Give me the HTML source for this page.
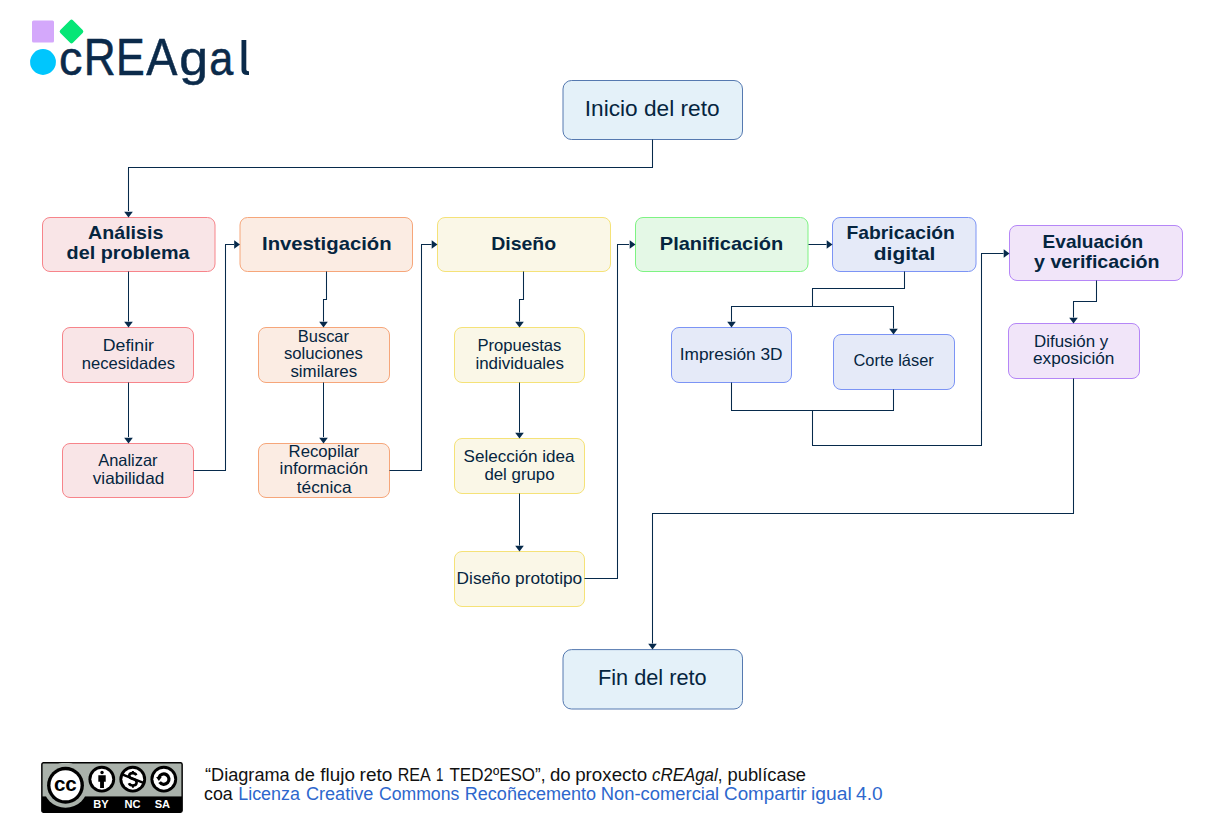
<!DOCTYPE html>
<html><head><meta charset="utf-8"><style>
html,body{margin:0;padding:0;background:#fff;}
body{width:1229px;height:824px;position:relative;overflow:hidden;font-family:"Liberation Sans",sans-serif;}
svg text{font-family:"Liberation Sans",sans-serif;white-space:pre;}
#main{position:absolute;left:0;top:0;}
.cc{position:absolute;left:41px;top:762px;}
</style></head><body>
<svg id="main" width="1229" height="824" viewBox="0 0 1229 824">
<rect x="32" y="20.5" width="22" height="22" rx="1.5" fill="#d4a8fb"/>
<rect x="62.6" y="22.6" width="17.8" height="17.8" rx="2" fill="#06e676" transform="rotate(45 71.5 31.5)"/>
<circle cx="43" cy="62" r="12.9" fill="#00c6fd"/>
<g fill="#0b2a4a" stroke="#0b2a4a" stroke-width="0.5">
<text x="58.88" y="75" font-size="47.5" textLength="23.40" lengthAdjust="spacingAndGlyphs">c</text>
<text x="83.70" y="75" font-size="51.5" textLength="31.95" lengthAdjust="spacingAndGlyphs">R</text>
<text x="116.10" y="75" font-size="51.5" textLength="28.71" lengthAdjust="spacingAndGlyphs">E</text>
<text x="146.24" y="75" font-size="51.5" textLength="31.20" lengthAdjust="spacingAndGlyphs">A</text>
<text x="179.27" y="75" font-size="47.5" textLength="28.80" lengthAdjust="spacingAndGlyphs">g</text>
<text x="209.33" y="75" font-size="47.5" textLength="24.06" lengthAdjust="spacingAndGlyphs">a</text>
</g>
<path d="M241.5 39.9 H246.3 V69.5 Q246.3 71.2 248.3 71.2 H249 V75 H247.5 Q241.5 75 241.5 70 Z" fill="#0b2a4a"/>

<rect x="563" y="80.5" width="179.5" height="59.0" rx="8.5" fill="#e4f1f9" stroke="#5579b0"/>
<rect x="563" y="649.6" width="179.5" height="59.39999999999998" rx="8.5" fill="#e4f1f9" stroke="#5579b0"/>
<rect x="42.5" y="217.5" width="172.5" height="54.0" rx="7.5" fill="#f9e5e7" stroke="#f7848a"/>
<rect x="240" y="217.5" width="172.5" height="54.0" rx="7.5" fill="#fbece3" stroke="#f6a67a"/>
<rect x="437.5" y="217.5" width="173.0" height="54.0" rx="7.5" fill="#faf7e7" stroke="#f5e278"/>
<rect x="635.5" y="217.5" width="172.5" height="54.0" rx="7.5" fill="#e4f8e6" stroke="#7ef383"/>
<rect x="832.5" y="217.5" width="143.5" height="54.0" rx="7.5" fill="#e5eaf8" stroke="#7c94f5"/>
<rect x="1009.5" y="225.5" width="173.0" height="55.0" rx="7.5" fill="#f1e5f9" stroke="#b586f7"/>
<rect x="62.5" y="327.5" width="131.0" height="55.0" rx="7.5" fill="#f9e5e7" stroke="#f7848a"/>
<rect x="62.5" y="443.5" width="131.0" height="54.0" rx="7.5" fill="#f9e5e7" stroke="#f7848a"/>
<rect x="258.5" y="327.5" width="131.0" height="55.0" rx="7.5" fill="#fbece3" stroke="#f6a67a"/>
<rect x="258.5" y="443.5" width="131.0" height="54.0" rx="7.5" fill="#fbece3" stroke="#f6a67a"/>
<rect x="454.5" y="327.5" width="130.0" height="55.0" rx="7.5" fill="#faf7e7" stroke="#f5e278"/>
<rect x="454.5" y="438.5" width="130.0" height="55.0" rx="7.5" fill="#faf7e7" stroke="#f5e278"/>
<rect x="454.5" y="551.5" width="130.0" height="55.0" rx="7.5" fill="#faf7e7" stroke="#f5e278"/>
<rect x="671.5" y="327.5" width="120.0" height="55.0" rx="7.5" fill="#e5eaf8" stroke="#7c94f5"/>
<rect x="833.5" y="334.5" width="121.0" height="55.0" rx="7.5" fill="#e5eaf8" stroke="#7c94f5"/>
<rect x="1008.5" y="323.5" width="131.0" height="55.0" rx="7.5" fill="#f1e5f9" stroke="#b586f7"/>
<g fill="none" stroke="#072a4b" stroke-width="1.05">
<path d="M652.5 139.5 V167.5 H128.5 V211"/>
<path d="M128.5 271.5 V321.5"/>
<path d="M128.5 382.5 V437"/>
<path d="M193.5 470.5 H225.5 V244.5 H234"/>
<path d="M326.5 271.5 V299.5 H323.5 V321.5"/>
<path d="M323.5 382.5 V437"/>
<path d="M389.5 470.5 H421.5 V244.5 H431.5"/>
<path d="M523.5 271.5 V299.5 H519.5 V321.5"/>
<path d="M519.5 382.5 V432.5"/>
<path d="M519.5 493.5 V545.5"/>
<path d="M584.5 578.5 H617.5 V244.5 H629"/>
<path d="M808.5 244.5 H826.5"/>
<path d="M904.5 271.5 V288.5 H812.5 V306.5"/>
<path d="M731.5 321.5 V306.5 H893.5 V328.5"/>
<path d="M731.5 382.5 V410.5 H893.5 V389.5"/>
<path d="M812.5 410.5 V445.5 H981.5 V253.5 H1003.5"/>
<path d="M1096.5 280.5 V301.5 H1073.5 V317.5"/>
<path d="M1073.5 378.5 V513.5 H652.5 V643.5"/>
</g><g fill="#072a4b">
<path d="M124.2 211.7 L132.8 211.7 L128.5 217.5 Z"/>
<path d="M124.2 321.7 L132.8 321.7 L128.5 327.5 Z"/>
<path d="M124.2 437.7 L132.8 437.7 L128.5 443.5 Z"/>
<path d="M234.2 240.2 L234.2 248.8 L240 244.5 Z"/>
<path d="M319.2 321.7 L327.8 321.7 L323.5 327.5 Z"/>
<path d="M319.2 437.7 L327.8 437.7 L323.5 443.5 Z"/>
<path d="M431.7 240.2 L431.7 248.8 L437.5 244.5 Z"/>
<path d="M515.2 321.7 L523.8 321.7 L519.5 327.5 Z"/>
<path d="M515.2 432.7 L523.8 432.7 L519.5 438.5 Z"/>
<path d="M515.2 545.7 L523.8 545.7 L519.5 551.5 Z"/>
<path d="M629.7 240.2 L629.7 248.8 L635.5 244.5 Z"/>
<path d="M826.7 240.2 L826.7 248.8 L832.5 244.5 Z"/>
<path d="M727.2 321.7 L735.8 321.7 L731.5 327.5 Z"/>
<path d="M889.2 328.7 L897.8 328.7 L893.5 334.5 Z"/>
<path d="M1003.7 249.2 L1003.7 257.8 L1009.5 253.5 Z"/>
<path d="M1069.2 317.7 L1077.8 317.7 L1073.5 323.5 Z"/>
<path d="M648.2 643.7 L656.8 643.7 L652.5 649.5 Z"/>
</g>
<text x="102.80" y="350.6" font-size="16.5" font-weight="400" fill="#05253f" textLength="51.20" lengthAdjust="spacingAndGlyphs" >Definir</text>
<text x="81.80" y="368.7" font-size="16.5" font-weight="400" fill="#05253f" textLength="93.20" lengthAdjust="spacingAndGlyphs" >necesidades</text>
<text x="98.20" y="465.8" font-size="16.5" font-weight="400" fill="#05253f" textLength="59.40" lengthAdjust="spacingAndGlyphs" >Analizar</text>
<text x="92.80" y="483.7" font-size="16.5" font-weight="400" fill="#05253f" textLength="71.40" lengthAdjust="spacingAndGlyphs" >viabilidad</text>
<text x="297.80" y="341.7" font-size="16.5" font-weight="400" fill="#05253f" textLength="51.20" lengthAdjust="spacingAndGlyphs" >Buscar</text>
<text x="284.00" y="359.4" font-size="16.5" font-weight="400" fill="#05253f" textLength="78.80" lengthAdjust="spacingAndGlyphs" >soluciones</text>
<text x="290.40" y="376.8" font-size="16.5" font-weight="400" fill="#05253f" textLength="66.80" lengthAdjust="spacingAndGlyphs" >similares</text>
<text x="288.60" y="456.7" font-size="16.5" font-weight="400" fill="#05253f" textLength="70.60" lengthAdjust="spacingAndGlyphs" >Recopilar</text>
<text x="279.60" y="474.3" font-size="16.5" font-weight="400" fill="#05253f" textLength="88.40" lengthAdjust="spacingAndGlyphs" >información</text>
<text x="296.80" y="492.6" font-size="16.5" font-weight="400" fill="#05253f" textLength="54.80" lengthAdjust="spacingAndGlyphs" >técnica</text>
<text x="477.40" y="350.5" font-size="16.5" font-weight="400" fill="#05253f" textLength="84.00" lengthAdjust="spacingAndGlyphs" >Propuestas</text>
<text x="475.40" y="368.6" font-size="16.5" font-weight="400" fill="#05253f" textLength="88.60" lengthAdjust="spacingAndGlyphs" >individuales</text>
<text x="463.60" y="461.7" font-size="16.5" font-weight="400" fill="#05253f" textLength="111.00" lengthAdjust="spacingAndGlyphs" >Selección idea</text>
<text x="484.40" y="479.6" font-size="16.5" font-weight="400" fill="#05253f" textLength="70.20" lengthAdjust="spacingAndGlyphs" >del grupo</text>
<text x="456.60" y="583.5" font-size="16.5" font-weight="400" fill="#05253f" textLength="125.60" lengthAdjust="spacingAndGlyphs" >Diseño prototipo</text>
<text x="679.80" y="360" font-size="16.5" font-weight="400" fill="#05253f" textLength="102.80" lengthAdjust="spacingAndGlyphs" >Impresión 3D</text>
<text x="853.40" y="365.8" font-size="16.5" font-weight="400" fill="#05253f" textLength="80.40" lengthAdjust="spacingAndGlyphs" >Corte láser</text>
<text x="1034.00" y="346.6" font-size="16.5" font-weight="400" fill="#05253f" textLength="74.20" lengthAdjust="spacingAndGlyphs" >Difusión y</text>
<text x="1033.00" y="363.6" font-size="16.5" font-weight="400" fill="#05253f" textLength="81.40" lengthAdjust="spacingAndGlyphs" >exposición</text>
<text x="88.00" y="238.8" font-size="19.0" font-weight="700" fill="#05253f" textLength="75.40" lengthAdjust="spacingAndGlyphs" >Análisis</text>
<text x="66.60" y="259.3" font-size="19.0" font-weight="700" fill="#05253f" textLength="123.00" lengthAdjust="spacingAndGlyphs" >del problema</text>
<text x="262.00" y="249.7" font-size="19.0" font-weight="700" fill="#05253f" textLength="129.60" lengthAdjust="spacingAndGlyphs" >Investigación</text>
<text x="491.20" y="249.9" font-size="19.0" font-weight="700" fill="#05253f" textLength="65.00" lengthAdjust="spacingAndGlyphs" >Diseño</text>
<text x="659.80" y="249.8" font-size="19.0" font-weight="700" fill="#05253f" textLength="123.40" lengthAdjust="spacingAndGlyphs" >Planificación</text>
<text x="846.60" y="238.8" font-size="19.0" font-weight="700" fill="#05253f" textLength="108.20" lengthAdjust="spacingAndGlyphs" >Fabricación</text>
<text x="873.80" y="259.7" font-size="19.0" font-weight="700" fill="#05253f" textLength="61.60" lengthAdjust="spacingAndGlyphs" >digital</text>
<text x="1042.60" y="247.8" font-size="19.0" font-weight="700" fill="#05253f" textLength="100.60" lengthAdjust="spacingAndGlyphs" >Evaluación</text>
<text x="1034.00" y="268.3" font-size="19.0" font-weight="700" fill="#05253f" textLength="125.60" lengthAdjust="spacingAndGlyphs" >y verificación</text>
<text x="584.80" y="116" font-size="21.5" font-weight="400" fill="#05253f" textLength="134.80" lengthAdjust="spacingAndGlyphs" >Inicio del reto</text>
<text x="598.00" y="684.7" font-size="21.5" font-weight="400" fill="#05253f" textLength="108.60" lengthAdjust="spacingAndGlyphs" >Fin del reto</text>
<text x="205.00" y="780.6" font-size="17.5" font-weight="400" fill="#111111" textLength="84.70" lengthAdjust="spacingAndGlyphs" >“Diagrama</text>
<text x="294.50" y="780.6" font-size="17.5" font-weight="400" fill="#111111" textLength="20.30" lengthAdjust="spacingAndGlyphs" >de</text>
<text x="320.30" y="780.6" font-size="17.5" font-weight="400" fill="#111111" textLength="34.60" lengthAdjust="spacingAndGlyphs" >flujo</text>
<text x="359.60" y="780.6" font-size="17.5" font-weight="400" fill="#111111" textLength="32.80" lengthAdjust="spacingAndGlyphs" >reto</text>
<text x="397.70" y="780.6" font-size="17.5" font-weight="400" fill="#111111" textLength="33.10" lengthAdjust="spacingAndGlyphs" >REA</text>
<text x="436.00" y="780.6" font-size="17.5" font-weight="400" fill="#111111" textLength="7.40" lengthAdjust="spacingAndGlyphs" >1</text>
<text x="449.40" y="780.6" font-size="17.5" font-weight="400" fill="#111111" textLength="96.10" lengthAdjust="spacingAndGlyphs" >TED2ºESO”,</text>
<text x="550.00" y="780.6" font-size="17.5" font-weight="400" fill="#111111" textLength="20.70" lengthAdjust="spacingAndGlyphs" >do</text>
<text x="575.20" y="780.6" font-size="17.5" font-weight="400" fill="#111111" textLength="71.90" lengthAdjust="spacingAndGlyphs" >proxecto</text>
<text x="652.00" y="780.6" font-size="17.5" font-weight="400" fill="#111111" textLength="70.50" lengthAdjust="spacingAndGlyphs" ><tspan font-style="italic">cREAgal</tspan>,</text>
<text x="727.50" y="780.6" font-size="17.5" font-weight="400" fill="#111111" textLength="78.50" lengthAdjust="spacingAndGlyphs" >publícase</text>
<text x="204.00" y="799.8" font-size="17.5" font-weight="400" fill="#111111" textLength="28.70" lengthAdjust="spacingAndGlyphs" >coa</text>
<text x="238.20" y="799.8" font-size="17.5" font-weight="400" fill="#2d67cd" textLength="61.80" lengthAdjust="spacingAndGlyphs" >Licenza</text>
<text x="305.90" y="799.8" font-size="17.5" font-weight="400" fill="#2d67cd" textLength="67.50" lengthAdjust="spacingAndGlyphs" >Creative</text>
<text x="378.90" y="799.8" font-size="17.5" font-weight="400" fill="#2d67cd" textLength="80.40" lengthAdjust="spacingAndGlyphs" >Commons</text>
<text x="464.80" y="799.8" font-size="17.5" font-weight="400" fill="#2d67cd" textLength="131.30" lengthAdjust="spacingAndGlyphs" >Recoñecemento</text>
<text x="600.80" y="799.8" font-size="17.5" font-weight="400" fill="#2d67cd" textLength="118.40" lengthAdjust="spacingAndGlyphs" >Non-comercial</text>
<text x="724.10" y="799.8" font-size="17.5" font-weight="400" fill="#2d67cd" textLength="82.50" lengthAdjust="spacingAndGlyphs" >Compartir</text>
<text x="811.00" y="799.8" font-size="17.5" font-weight="400" fill="#2d67cd" textLength="40.80" lengthAdjust="spacingAndGlyphs" >igual</text>
<text x="856.00" y="799.8" font-size="17.5" font-weight="400" fill="#2d67cd" textLength="26.60" lengthAdjust="spacingAndGlyphs" >4.0</text>
</svg>
<div class="cc"><svg width="142" height="51" viewBox="0 0 88.2 31.7">
<defs><clipPath id="bc"><rect x="0.6" y="0.6" width="87" height="30.5" rx="0.8"/></clipPath></defs>
<rect x="0.5" y="0.5" width="87.2" height="30.7" rx="1" fill="#aab2ab" stroke="#000" stroke-width="0.9"/>
<g clip-path="url(#bc)">
<rect x="0" y="21.4" width="88.2" height="11" fill="#000"/>
<circle cx="15.2" cy="14.45" r="14" fill="#aab2ab"/>
</g>
<circle cx="15.2" cy="14.45" r="11.45" fill="#000"/>
<circle cx="15.2" cy="14.45" r="9.35" fill="#fff"/>
<text x="11.6" y="17.8" text-anchor="middle" font-family="Liberation Sans" font-weight="bold" font-size="12.8" fill="#000">c</text>
<text x="18.6" y="17.8" text-anchor="middle" font-family="Liberation Sans" font-weight="bold" font-size="12.8" fill="#000">c</text>
<circle cx="37.76" cy="10.68" r="8.3" fill="#000"/><circle cx="37.76" cy="10.68" r="6.5" fill="#fff"/>
<circle cx="37.9" cy="6.5" r="1.05" fill="#000"/>
<path d="M35.6 8.2 h4.6 v4.0 h-1.1 v3.9 h-2.4 v-3.9 h-1.1 Z" fill="#000"/>
<circle cx="57.0" cy="10.68" r="8.3" fill="#000"/><circle cx="57.0" cy="10.68" r="6.5" fill="#fff"/>
<path d="M59.2 8.2 Q58.6 6.9 57.0 6.9 Q54.8 6.9 54.8 8.6 Q54.8 10.1 57.1 10.6 Q59.4 11.1 59.4 12.8 Q59.4 14.6 57.0 14.6 Q55.2 14.6 54.6 13.2" fill="none" stroke="#000" stroke-width="1.6"/>
<path d="M57.1 5.6 V7.2 M57.1 14.3 V16" stroke="#000" stroke-width="1.2"/>
<path d="M50.0 7.6 L63.7 12.95" stroke="#000" stroke-width="1.5"/>
<circle cx="76.3" cy="10.68" r="8.3" fill="#000"/><circle cx="76.3" cy="10.68" r="6.5" fill="#fff"/>
<path d="M73.3 9.6 A3.2 3.2 0 1 1 73.7 12.5" fill="none" stroke="#000" stroke-width="2"/>
<path d="M71.5 9.4 L75.0 9.4 L73.25 11.8 Z" fill="#000"/>
<text x="37.3" y="28.9" text-anchor="middle" font-family="Liberation Sans" font-weight="bold" font-size="6.9" fill="#fff">BY</text>
<text x="56.8" y="28.9" text-anchor="middle" font-family="Liberation Sans" font-weight="bold" font-size="6.9" fill="#fff">NC</text>
<text x="75.4" y="28.9" text-anchor="middle" font-family="Liberation Sans" font-weight="bold" font-size="6.9" fill="#fff">SA</text>
</svg>
</div>
</body></html>
